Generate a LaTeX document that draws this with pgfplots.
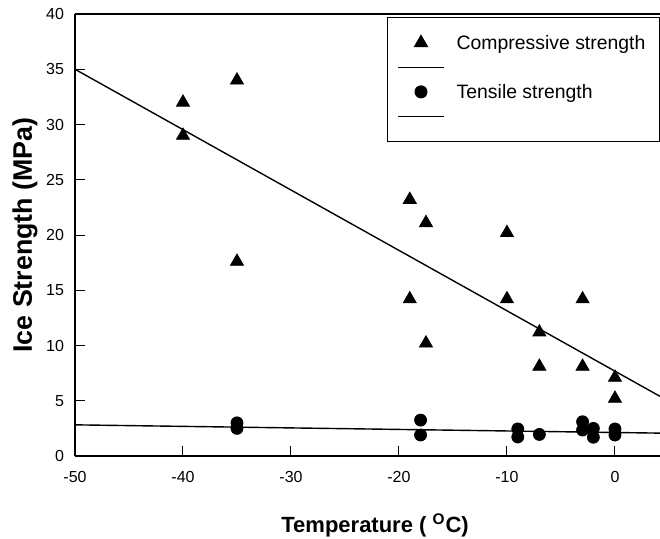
\documentclass[border=0pt]{standalone}
\usepackage{pgfplots}
\pgfplotsset{compat=1.18}
\usepackage{fontspec}
\setmainfont{Liberation Sans}
\pgfplotsset{
    legend image code/.code={\draw[mark repeat=2, mark phase=2, #1]
        plot coordinates {(0pt,0pt) (11.5pt,0pt) (23pt,0pt)};},
}

\begin{document}
\begin{tikzpicture}
\useasboundingbox (-37.5pt,-41pt) rectangle (292.5pt,228pt);
\begin{axis}[
    at={(0,0)}, anchor=south west,
    scale only axis,
    width=292.5pt, height=221pt,
    xmin=-50, xmax=4.17,
    ymin=0, ymax=40,
    xtick={-50,-40,...,0},
    ytick={0,5,...,40},
    axis x line*=box, axis y line*=left,
    x axis line style={line width=1pt},
    y axis line style={line width=1pt, -},
    tick align=inside,
    xtick pos=bottom, ytick pos=left,
    major tick length=4.8pt,
    every tick/.style={black, line width=0.5pt},
    /pgf/number format/assume math mode=true,
    tick label style={font=\fontsize{8}{10}\selectfont},
    xticklabel style={yshift=-4pt},
    yticklabel style={xshift=-2pt},
    xlabel={Temperature ( \textsuperscript{O}C)},
    ylabel={Ice Strength (MPa)},
    xlabel style={at={([yshift=-38pt]axis description cs:0.513,0)}, anchor=base,
        font=\bfseries\fontsize{11}{13}\selectfont},
    ylabel style={at={([xshift=-21.5pt]axis description cs:0,0.5)}, anchor=base,
        font=\bfseries\fontsize{13.4}{15}\selectfont},
    clip=false,
    legend cell align=left,
    legend style={at={(0.533,0.993)}, anchor=north west,
        draw=black, line width=0.5pt,
        inner xsep=5pt, inner ysep=6.5pt,
        font=\fontsize{9.7}{12}\selectfont,
        cells={anchor=west},
        nodes={inner xsep=2pt, inner ysep=1.125pt, text height=8.5pt, text depth=1.5pt},
        /tikz/every odd column/.append style={column sep=4pt},
        row sep=0pt},
]
% compressive strength
\addplot[black, only marks, mark=triangle*, mark size=3.75pt]
coordinates {
    (-40,32) (-40,29) (-35,34) (-35,17.6)
    (-19,23.2) (-17.5,21.1) (-19,14.2) (-17.5,10.2)
    (-10,20.2) (-10,14.2) (-7,11.2) (-7,8.1)
    (-3,14.2) (-3,8.1) (0,7.1) (0,5.2)
};
\addlegendentry{Compressive strength}
\addplot[black, line width=0.7pt] coordinates { (-50,35) (4.17,5.4) };
\addlegendentry{}
% tensile strength
\addplot[black, only marks, mark=*, mark size=3pt]
coordinates {
    (-35,3.0) (-35,2.5) (-18,3.25) (-18,1.9)
    (-9,2.45) (-9,1.72) (-7,1.95)
    (-3,3.1) (-3,2.35) (-2,2.5) (-2,1.7)
    (0,2.45) (0,1.9)
};
\addlegendentry{Tensile strength}
\addplot[black, line width=0.7pt] coordinates { (-50,2.82) (4.17,2.07) };
\addlegendentry{}
\draw[line width=1.4pt] (rel axis cs:0,1) -- (rel axis cs:1,1);
\end{axis}
\end{tikzpicture}
\end{document}
